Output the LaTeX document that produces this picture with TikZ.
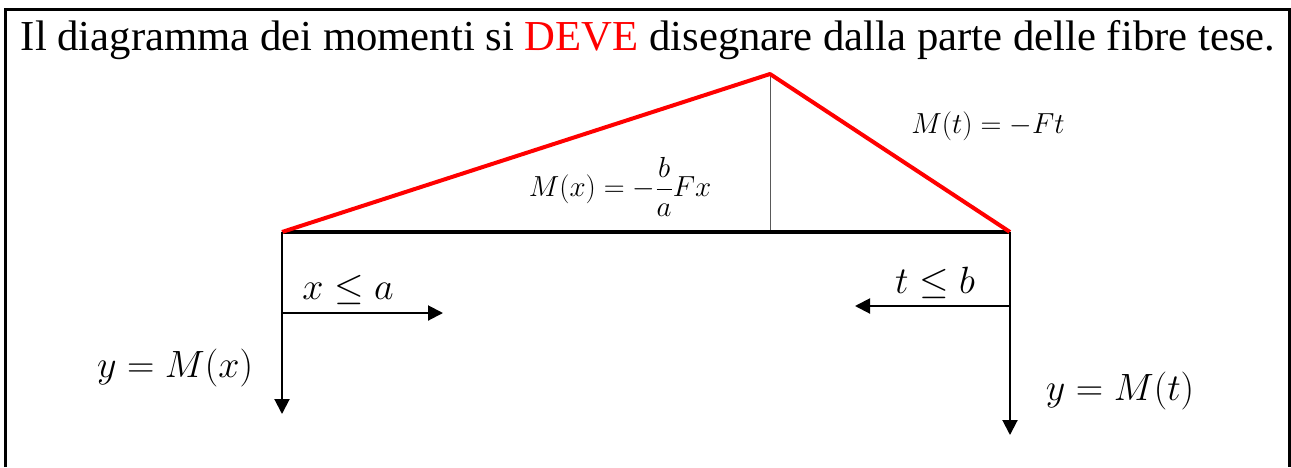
\RequirePackage{fix-cm}
\documentclass[tikz,border=0pt]{standalone}
\usepackage{amsmath,amssymb}
\usepackage{fontspec}
\setmainfont{Liberation Serif}
\usetikzlibrary{arrows.meta}

\begin{document}
\begin{tikzpicture}[x=1pt,y=-1pt,
    beam/.style={line width=4pt},
    diag/.style={red, line width=4pt, line join=round},
    axis/.style={line width=2pt, -{Triangle[length=15pt,width=15pt]}},
    biglab/.style={font=\fontsize{38}{46}\selectfont},
    smalllab/.style={font=\fontsize{29}{35}\selectfont}]
    \useasboundingbox (0,0) rectangle (1291,467);
    % frame
    \draw[line width=3pt] (5,467) -- (5,9) -- (1289,9) -- (1289,467);
    \node[font=\fontsize{42.7}{50}\selectfont] (title) at (648,40)
      {Il diagramma dei momenti si \textcolor{red}{DEVE} disegnare dalla parte delle fibre tese.};
    % beam and moment diagram
    \coordinate (A) at (282,232);
    \coordinate (B) at (1010,232);
    \coordinate (C) at (770,74);
    \coordinate (Cb) at (770,232);
    \draw[thin, gray!70!black] (C) -- (Cb);
    \draw[beam] (A) -- (B);
    \draw[diag] (A) -- (C) -- (B);
    \node[smalllab] (Mx) at (620,187) {$M(x)=-\dfrac{b}{a}Fx$};
    \node[smalllab] (Mt) at (988,126) {$M(t)=-Ft$};
    % left axes
    \coordinate (Ax) at (282,313);
    \coordinate (xend) at (443,313);
    \coordinate (yend1) at (282,414);
    \draw[axis] (A) -- (yend1);
    \draw[axis] (Ax) -- (xend);
    \node[biglab] (xa) at (348,290) {$x\leq a$};
    \node[biglab] (yMx) at (175,368) {$y=M(x)$};
    % right axes
    \coordinate (Bt) at (1010,306);
    \coordinate (tend) at (855,306);
    \coordinate (yend2) at (1010,435);
    \draw[axis] (B) -- (yend2);
    \draw[axis] (Bt) -- (tend);
    \node[biglab] (tb) at (935,283) {$t\leq b$};
    \node[biglab] (yMt) at (1120,391) {$y=M(t)$};
\end{tikzpicture}
\end{document}
